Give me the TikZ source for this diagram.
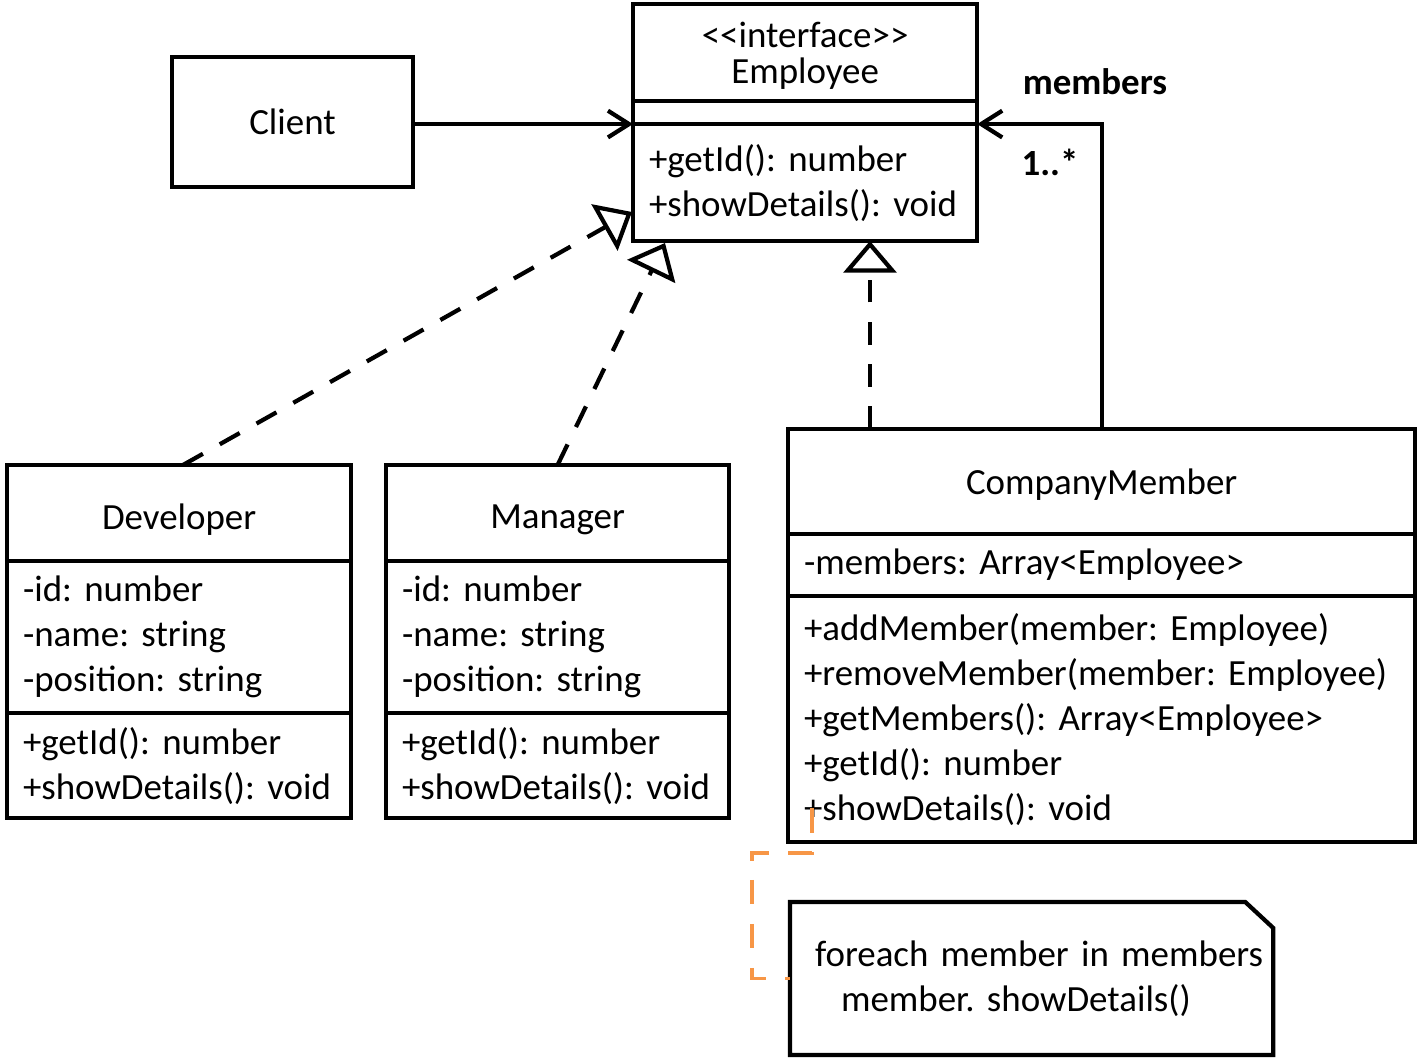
\documentclass[tikz,border=0pt]{standalone}
\usepackage{fontspec}
\setmainfont{Carlito}
\usetikzlibrary{positioning}
\usetikzlibrary{arrows.meta}

\definecolor{noteorange}{HTML}{F79646}

\newcommand{\lowered}[2]{\raisebox{-#1}[\height][\depth]{#2}}

\tikzset{
	umlpart/.style={draw, line width=1.2pt, inner ysep=0pt, inner xsep=0.16cm, outer sep=0pt, align=left},
	umltitle/.style={umlpart, align=center},
	realize/.style={line width=1.2pt, dash pattern=on 6.5pt off 5.5pt, -{Triangle[open, length=9pt, width=15pt, fill=white]}},
	assoc/.style={line width=1.2pt, -{Straight Barb[length=6pt, width=7.6pt]}},
	notelink/.style={draw=noteorange, line width=1.1pt, dash pattern=on 7pt off 5.5pt},
}

\begin{document}
\frenchspacing
\begin{tikzpicture}[x=0.01cm, y=-0.01cm, every node/.style={font=\fontsize{10.5}{12.8}\selectfont}]
	\useasboundingbox (0,0) rectangle (1417,1058);

	\node (Client) [draw, line width=1.2pt, minimum width=2.41cm, minimum height=1.30cm] at (292.5,122) {Client};

	% Employee interface
	\node (empTitle) [umltitle, text width=3.12cm, minimum height=0.97cm, anchor=north west] at (633,4) {\lowered{1pt}{<{}<interface>{}>}\\[-2.5pt]\lowered{1pt}{Employee}};
	\node (empEmpty) [umlpart, text width=3.12cm, minimum height=0.23cm, below=0pt of empTitle] {};
	\node (empMethods) [umlpart, text width=3.12cm, minimum height=1.17cm, below=0pt of empEmpty] {+getId(): number\\+showDetails(): void};

	% Developer
	\node (devTitle) [umltitle, text width=3.12cm, minimum height=0.96cm, anchor=north west] at (7,465) {\lowered{2pt}{Developer}};
	\node (devAttrs) [umlpart, text width=3.12cm, minimum height=1.52cm, below=0pt of devTitle] {-id: number\\-name: string\\-position: string};
	\node (devMethods) [umlpart, text width=3.12cm, minimum height=1.05cm, below=0pt of devAttrs] {+getId(): number\\+showDetails(): void};

	% Manager
	\node (manTitle) [umltitle, text width=3.11cm, minimum height=0.96cm, anchor=north west] at (386,465) {\lowered{2pt}{Manager}};
	\node (manAttrs) [umlpart, text width=3.11cm, minimum height=1.52cm, below=0pt of manTitle] {-id: number\\-name: string\\-position: string};
	\node (manMethods) [umlpart, text width=3.11cm, minimum height=1.05cm, below=0pt of manAttrs] {+getId(): number\\+showDetails(): void};

	% CompanyMember
	\node (cmTitle) [umltitle, text width=5.95cm, minimum height=1.05cm, anchor=north west] at (788,429) {\lowered{1pt}{CompanyMember}};
	\node (cmAttrs) [umlpart, text width=5.95cm, minimum height=0.62cm, below=0pt of cmTitle] {-members: Array<Employee>};
	\node (cmMethods) [umlpart, text width=5.95cm, minimum height=2.46cm, below=0pt of cmAttrs] {+addMember(member: Employee)\\+removeMember(member: Employee)\\+getMembers(): Array<Employee>\\+getId(): number\\+showDetails(): void};

	% note
	\node (note) [inner xsep=0.25cm, inner ysep=0pt, outer sep=0pt, text width=4.33cm, align=left, minimum height=1.53cm, anchor=north west] at (790,902) {\mbox{foreach member in members}\\\hspace*{0.26cm}member. showDetails()};
	\draw [line width=1.2pt] (note.south west) -- (note.north west) -- ([xshift=-0.28cm]note.north east) -- ([yshift=-0.26cm]note.north east) -- (note.south east) -- cycle;

	% connectors
	\draw [assoc] (Client.east |- empEmpty.south) -- (empEmpty.south west);
	\draw [assoc] (cmTitle.north) -- (cmTitle.north |- empEmpty.south) -- (empEmpty.south east);
	\node (membersLabel) [font=\fontsize{10.5}{12}\selectfont\bfseries] at (1095,82) {members};
	\node (multLabel) [font=\fontsize{10.5}{12}\selectfont\bfseries] at (1050,162) {1..*};

	\coordinate (devTip) at (632,212);
	\coordinate (manTip) at (665,243);
	\coordinate (cmTip) at (870,241);
	\draw [realize] (devTitle.north -| 183,0) -- (devTip);
	\draw [realize] (manTitle.north) -- (manTip);
	\draw [realize] (cmTip |- cmTitle.north) -- (cmTip);

	\coordinate (linkStart) at (812,808);
	\draw [notelink] (linkStart) |- (752,853) |- (note.west);
\end{tikzpicture}
\end{document}
